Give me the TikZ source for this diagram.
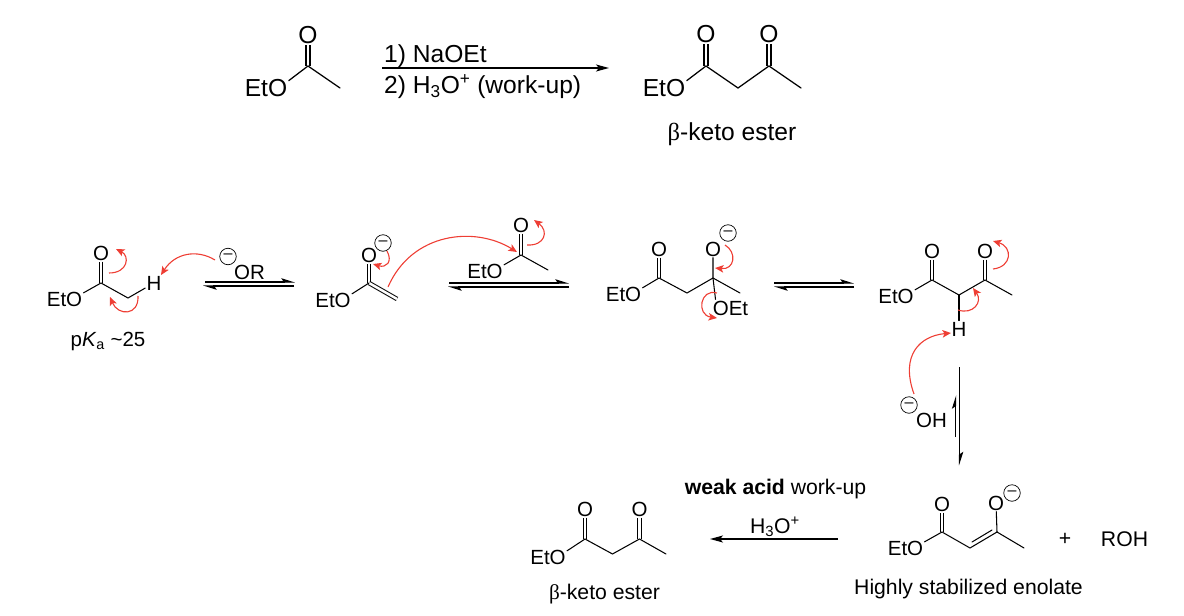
\documentclass[tikz,border=0pt]{standalone}
\usepackage{fontspec}
\setmainfont{Liberation Sans}
\newfontfamily\serifgreek{Liberation Serif}
\usetikzlibrary{arrows.meta}
\definecolor{mechred}{RGB}{238,62,52}
\newcommand{\fbig}{\fontsize{24.6}{28}\selectfont}
\newcommand{\fmid}{\fontsize{20.5}{24}\selectfont}
\newcommand{\flab}{\fontsize{21.2}{25}\selectfont}
\tikzset{
  atom/.style={inner sep=1.2pt,font=\fmid},
  atombig/.style={inner sep=1.4pt,font=\fbig},
  txt/.style={inner sep=0pt,font=\flab},
  txtbig/.style={inner sep=0pt,font=\fbig},
  bond/.style={line width=1.05pt,line cap=round},
  bondbig/.style={line width=1.25pt,line cap=round},
  dbl/.style={double,double distance=2.5pt,line width=1pt},
  dblbig/.style={double,double distance=2.9pt,line width=1.2pt},
  neg/.style={circle,draw,line width=.7pt,minimum size=16.5pt,inner sep=0pt,font=\fontsize{16}{16}\selectfont},
  reaction/.style={line width=1.2pt,-{Stealth[length=13pt,width=7pt,inset=3pt]}},
  halfa/.style={line width=1.05pt,-{Stealth[harpoon,length=12pt,width=7.5pt,inset=2.5pt]}},
  curly/.style={mechred,line width=1.1pt,-{Stealth[length=8.5pt,width=7.5pt,inset=2pt]}}
}
\newcommand{\curved}[5]{\coordinate (#1a) at #2; \coordinate (#1b) at #5;
  \draw[curly] (#1a) .. controls #3 and #4 .. (#1b);}
\begin{document}
\begin{tikzpicture}[x=1pt,y=-1pt]
\useasboundingbox (0,0) rectangle (1184,616);
% ---- top reactant
\node[atombig] (te) at (266,88) {EtO};
\node[atombig] (to) at (308,35) {O};
\coordinate (tc) at (308,66);
\coordinate (tm) at (340,88);
\draw[dblbig] (to) -- (tc);
\draw[bondbig] (te.18) -- (tc) -- (tm);
% ---- top arrow
\coordinate (ta1) at (382,68);
\coordinate (ta2) at (609,68);
\draw[reaction] (ta1) -- (ta2);
\node[txtbig,anchor=west] (tr1) at (384,56.5) {1) NaOEt};
\node[txtbig,anchor=west] (tr2) at (384,86.5) {2) H\textsubscript{3}O\textsuperscript{+} (work-up)};
% ---- top product
\node[atombig] (pe) at (664,88) {EtO};
\node[atombig] (po1) at (706,34) {O};
\node[atombig] (po2) at (769,34) {O};
\coordinate (pc1) at (706,66);
\coordinate (pch) at (738,88);
\coordinate (pc2) at (769,66);
\coordinate (pm) at (801,88);
\draw[dblbig] (po1) -- (pc1);
\draw[dblbig] (po2) -- (pc2);
\draw[bondbig] (pe.18) -- (pc1) -- (pch) -- (pc2) -- (pm);
\node[txtbig] (pl) at (732,134.5) {{\serifgreek β}-keto ester};
% ---- structure 1
\node[atom] (ae) at (64.5,299) {EtO};
\node[atom] (ao) at (101,253) {O};
\node[atom] (ah) at (154,283) {H};
\coordinate (ac) at (101,283);
\coordinate (ach) at (128,298);
\draw[dbl] (ao) -- (ac);
\draw[bond] (ae.18) -- (ac) -- (ach) -- (ah);
\node[txt,font=\fmid] (al) at (108,341) {p\textit{K}\textsubscript{a} \textasciitilde25};
\curved{r1}{(109,273)}{(128,273)}{(130,256)}{(116,249)}
\curved{r2}{(138,296)}{(139,316)}{(118,316)}{(110,297)}
\node[neg] (an) at (228,256.5) {–};
\node[atom] (aor) at (249.5,272) {OR};
\curved{r3}{(215,260)}{(197,249)}{(175,253)}{(161,275)}
% eq 1
\coordinate (e1a) at (205,282); \coordinate (e1b) at (295,282);
\coordinate (e1c) at (294,286); \coordinate (e1d) at (203,286);
\draw[halfa] (e1a) -- (e1b);
\draw[halfa] (e1c) -- (e1d);
% ---- structure 2
\node[atom] (be) at (333,300) {EtO};
\node[atom] (bo) at (369,255) {O};
\coordinate (bc) at (369,283);
\coordinate (bch) at (397,299);
\draw[dbl] (bo) -- (bc);
\draw[dbl] (bc) -- (bch);
\draw[bond] (be.18) -- (bc);
\node[neg] (bn) at (383,243) {–};
\curved{r4}{(387,251)}{(393,262)}{(386,268)}{(373,264)}
\curved{r5}{(388,287)}{(412,232)}{(475,226)}{(517,252)}
% eq 2
\coordinate (e2a) at (449,283); \coordinate (e2b) at (569,283);
\coordinate (e2c) at (569,287); \coordinate (e2d) at (448,287);
\draw[halfa] (e2a) -- (e2b);
\draw[halfa] (e2c) -- (e2d);
% ---- acetate above eq 2
\node[atom] (ce) at (485,271) {EtO};
\node[atom] (co) at (521,225) {O};
\coordinate (cc) at (521,255);
\coordinate (cm) at (548,270);
\draw[dbl] (co) -- (cc);
\draw[bond] (ce.18) -- (cc) -- (cm);
\curved{r6}{(527,245)}{(545,246)}{(549,231)}{(534,220)}
% ---- structure 3
\node[atom] (de) at (623.5,294) {EtO};
\node[atom] (do1) at (659,249) {O};
\node[atom] (do2) at (713,249) {O};
\node[atom] (det) at (730.5,308) {OEt};
\coordinate (dc1) at (659,278);
\coordinate (dch) at (687,293);
\coordinate (dc2) at (713,278);
\coordinate (dm) at (740,293);
\draw[dbl] (do1) -- (dc1);
\draw[bond] (de.18) -- (dc1) -- (dch) -- (dc2) -- (dm);
\draw[bond] (do2) -- (dc2) -- (det.150);
\node[neg] (dn) at (728,233) {–};
\curved{r7}{(725,245)}{(737,252)}{(735,270)}{(715,268)}
\curved{r8}{(717,293)}{(700,288)}{(696,315)}{(717,318)}
% eq 3
\coordinate (e3a) at (774,283); \coordinate (e3b) at (854,283);
\coordinate (e3c) at (854,287); \coordinate (e3d) at (774,287);
\draw[halfa] (e3a) -- (e3b);
\draw[halfa] (e3c) -- (e3d);
% ---- structure 4
\node[atom] (fe) at (896,296) {EtO};
\node[atom] (fo1) at (932,251) {O};
\node[atom] (fo2) at (985,251) {O};
\node[atom] (fh) at (959,329) {H};
\coordinate (fc1) at (932,280);
\coordinate (fch) at (959,295);
\coordinate (fc2) at (985,280);
\coordinate (fm) at (1012,295);
\draw[dbl] (fo1) -- (fc1);
\draw[dbl] (fo2) -- (fc2);
\draw[bond] (fe.18) -- (fc1) -- (fch) -- (fc2) -- (fm);
\draw[bond] (fch) -- (fh);
\curved{r9}{(958,310)}{(973,315)}{(983,302)}{(973,288)}
\curved{r10}{(993,269)}{(1012,267)}{(1013,247)}{(993,241)}
\curved{r11}{(914,394)}{(900,355)}{(920,336)}{(951,333)}
\node[neg] (on) at (909,405) {–};
\node[atom] (oh) at (931.5,420) {OH};
% vertical equilibrium
\coordinate (v1a) at (959.5,367); \coordinate (v1b) at (959.5,465.5);
\coordinate (v2a) at (955.7,437); \coordinate (v2b) at (955.7,395);
\draw[halfa] (v1a) -- (v1b);
\draw[halfa] (v2a) -- (v2b);
% ---- bottom product
\node[atom] (qe) at (548,557) {EtO};
\node[atom] (qo1) at (585,509) {O};
\node[atom] (qo2) at (639.5,509) {O};
\coordinate (qc1) at (585,539);
\coordinate (qch) at (612.5,554);
\coordinate (qc2) at (639.5,539);
\coordinate (qm) at (666,554);
\draw[dbl] (qo1) -- (qc1);
\draw[dbl] (qo2) -- (qc2);
\draw[bond] (qe.18) -- (qc1) -- (qch) -- (qc2) -- (qm);
\node[txt] (ql) at (604.5,594.5) {{\serifgreek β}-keto ester};
% bottom arrow
\coordinate (ba1) at (838,539); \coordinate (ba2) at (710,539);
\draw[reaction] (ba1) -- (ba2);
\node[txt] (bt) at (775,527) {H\textsubscript{3}O\textsuperscript{+}};
\node[txt] (bw) at (775.5,489) {\textbf{weak acid} work-up};
% ---- enolate
\node[atom] (ge) at (905.5,548) {EtO};
\node[atom] (go1) at (942,504) {O};
\node[atom] (go2) at (996,503) {O};
\coordinate (gc1) at (942,532);
\coordinate (gch) at (970,548);
\coordinate (gc2) at (997,532);
\coordinate (gm) at (1024,548);
\coordinate (gch2) at (972,542);
\coordinate (gc22) at (992,530);
\draw[dbl] (go1) -- (gc1);
\draw[bond] (ge.18) -- (gc1) -- (gch) -- (gc2) -- (gm);
\draw[bond] (go2) -- (gc2);
\draw[bond] (gch2) -- (gc22);
\node[neg] (gn) at (1012,493) {–};
\node[txt] (plus) at (1065,539) {+};
\node[txt] (roh) at (1124.5,539) {ROH};
\node[txt] (gl) at (968.5,589.5) {Highly stabilized enolate};
\end{tikzpicture}
\end{document}
